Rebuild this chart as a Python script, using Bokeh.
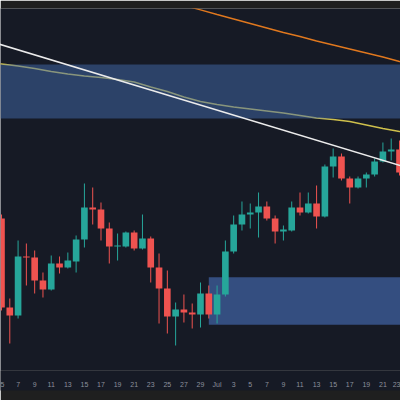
from bokeh.plotting import figure
from bokeh.models import Range1d, FixedTicker, BoxAnnotation
from bokeh.embed import file_html
from bokeh.resources import INLINE

# --- data (day offset from Jul 1; prices in arbitrary units) ---
days = list(range(-26, 23))
opens  = [182, 93, 85, 144, 143, 120, 111, 137, 133, 139, 161, 193, 191, 172, 154, 154, 168, 152, 162, 133, 112, 84, 91, 88, 86, 107, 86,
          106, 149, 176, 186, 188, 194, 182, 169, 170, 193, 188, 197, 184, 234, 244, 222, 213, 222, 226, 239, 249, 251]
highs  = [186, 102, 160, 157, 150, 128, 145, 144, 148, 165, 217, 213, 198, 178, 167, 169, 170, 186, 164, 147, 130, 98, 106, 97, 118, 115, 115,
          160, 185, 199, 197, 208, 199, 185, 175, 199, 208, 208, 215, 236, 252, 247, 224, 224, 228, 242, 258, 262, 260]
lows   = [90, 57, 82, 115, 107, 103, 110, 127, 132, 128, 153, 176, 160, 137, 140, 153, 150, 151, 118, 77, 67, 55, 78, 72, 73, 82, 77,
          104, 147, 170, 172, 163, 180, 157, 160, 169, 185, 187, 172, 183, 223, 220, 197, 212, 213, 224, 238, 240, 225]
closes = [93, 85, 144, 143, 120, 111, 137, 133, 140, 161, 193, 191, 172, 154, 155, 168, 152, 162, 133, 112, 84, 91, 88, 86, 107, 86, 106,
          149, 176, 186, 188, 194, 182, 169, 171, 193, 188, 197, 184, 234, 244, 222, 213, 222, 226, 239, 249, 251, 228]

ma_slow_days = [-28, -26, -24, -22, -20, -18, -16, -14, -12, -10, -8, -6, -4, -2, 0, 2, 4, 6, 8, 10, 12, 14, 16, 18, 20, 22, 24]
ma_slow = [337.5, 336.5, 334.5, 332, 329, 326.5, 324.5, 323, 321, 318.5, 313.5, 309, 303.5, 299, 296, 293.5, 291.5, 289.5,
           287.5, 285, 282.5, 281, 279, 275.5, 272, 269, 266]

ma_long_days = [-8, -6, -4, -2, 0, 2, 4, 6, 8, 10, 12, 14, 16, 18, 20, 22, 24]
ma_long = [404, 400, 395.2, 390.6, 386, 381.5, 377, 372.5, 368, 364, 359.5, 355.5, 351.5, 347.5, 343.5, 339, 335]

trend_days = [-28, 24]
trend_vals = [360.7, 230.1]

upper_zone = [282, 336]           # bottom, top
lower_zone_start = -1
lower_zone = [75.7, 123.3]        # bottom, top

tick_days = list(range(-26, 23, 2))
tick_labels = ["5", "7", "9", "11", "13", "15", "17", "19", "21", "23", "25", "27", "29",
               "Jul", "3", "5", "7", "9", "11", "13", "15", "17", "19", "21", "23"]

UP = "#26a69a"
DOWN = "#ef5350"

p = figure(width=400, height=400, output_backend="svg", toolbar_location=None,
           x_range=Range1d(-26.12, 22.12), y_range=Range1d(30, 392),
           min_border_left=0, min_border_right=0, min_border_top=8, min_border_bottom=30,
           background_fill_color="#161a25", border_fill_color="#1f1f1f",
           outline_line_color=None)
p.grid.visible = False
p.yaxis.visible = False

ax = p.xaxis[0]
ax.ticker = FixedTicker(ticks=tick_days)
ax.major_label_overrides = {d: l for d, l in zip(tick_days, tick_labels)}
ax.axis_line_color = None
ax.major_tick_line_color = None
ax.minor_tick_line_color = None
ax.major_label_text_font_size = "7px"
ax.major_label_text_color = "#8c909c"
ax.major_label_text_font = "Liberation Sans"
ax.major_label_standoff = 4
ax.background_fill_color = "#161a25"

# lower zone under the candles
p.add_layout(BoxAnnotation(left=lower_zone_start, bottom=lower_zone[0], top=lower_zone[1],
                           fill_color="#344e80", fill_alpha=1.0, line_color=None, level="underlay"))

# moving averages
p.line(ma_slow_days, ma_slow, line_color="#cfc04c", line_width=1.4)
p.line(ma_long_days, ma_long, line_color="#e0781e", line_width=1.4)

# candles
colors = [UP if c >= o else DOWN for o, c in zip(opens, closes)]
p.segment(x0=days, y0=lows, x1=days, y1=highs, line_color=colors, line_width=1)
p.vbar(x=days, width=0.8, top=[max(o, c) for o, c in zip(opens, closes)],
       bottom=[min(o, c) for o, c in zip(opens, closes)], fill_color=colors, line_color=None)

# upper zone (semi-transparent, over the MA)
p.add_layout(BoxAnnotation(bottom=upper_zone[0], top=upper_zone[1],
                           fill_color="#426aab", fill_alpha=0.5, line_color=None))

# trend line on top
p.line(trend_days, trend_vals, line_color="#ececec", line_width=1.6, level="overlay")

open("out.html", "w").write(file_html(p, INLINE))
